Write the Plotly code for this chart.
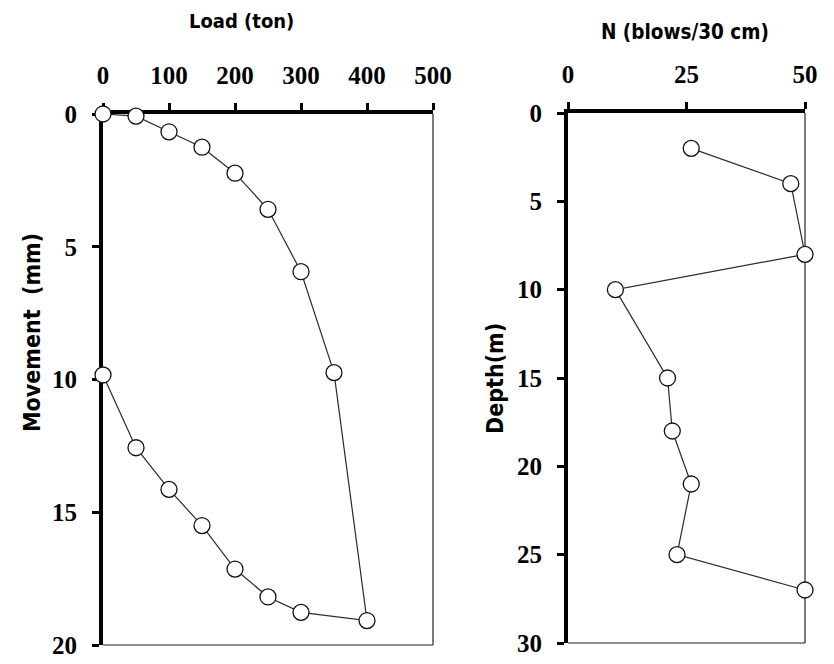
import plotly.graph_objects as go

# ---- data ----
load_ton = [0, 50, 100, 150, 200, 250, 300, 350, 400, 300, 250, 200, 150, 100, 50, 0]
movement_mm = [0, 0.08, 0.67, 1.25, 2.23, 3.59, 5.94, 9.74, 19.08, 18.77, 18.19, 17.14, 15.5, 14.14, 12.57, 9.83]

spt_n = [26, 47, 50, 10, 21, 22, 26, 23, 50]
depth_m = [2, 4, 8, 10, 15, 18, 21, 25, 27]

load_ticks = [0, 100, 200, 300, 400, 500]
move_ticks = [0, 5, 10, 15, 20]
n_ticks = [0, 25, 50]
depth_ticks = [0, 5, 10, 15, 20, 25, 30]

W, H = 834, 664

def xd(a, b):
    return [a / W, b / W]

def yd(top, bottom):
    return [(H - bottom) / H, (H - top) / H]

TICKFONT = dict(family="Liberation Serif", size=25, color="black", weight="bold")
TITLEFONT = "DejaVu Sans Condensed, DejaVu Sans"

marker = dict(symbol="circle", size=16, color="white", line=dict(color="#111", width=1.3))
line = dict(color="#2a2a2a", width=1.2)

fig = go.Figure()
fig.add_trace(go.Scatter(x=load_ton, y=movement_mm, mode="lines+markers", marker=marker,
                         line=line, xaxis="x", yaxis="y", cliponaxis=False, showlegend=False))
fig.add_trace(go.Scatter(x=spt_n, y=depth_m, mode="lines+markers", marker=marker,
                         line=line, xaxis="x2", yaxis="y2", cliponaxis=False, showlegend=False))

common_x = dict(side="top", showgrid=False, zeroline=False, showline=True, linecolor="black",
                linewidth=4, ticks="outside", ticklen=7, tickwidth=3, tickcolor="black",
                tickfont=TICKFONT, ticklabelstandoff=9, layer="below traces",
                automargin=False)
common_y = dict(showgrid=False, zeroline=False, showline=True, linecolor="black",
                linewidth=4, ticks="outside", ticklen=7, tickwidth=3, tickcolor="black",
                tickfont=TICKFONT, ticklabelstandoff=10, layer="below traces",
                automargin=False)

fig.update_layout(
    width=W, height=H, margin=dict(l=0, r=0, t=0, b=0, pad=0, autoexpand=False),
    paper_bgcolor="white", plot_bgcolor="white",
    xaxis=dict(common_x, domain=xd(103, 433), range=[0, 500], tickvals=load_ticks,
               anchor="y"),
    yaxis=dict(common_y, domain=yd(114, 645), range=[20, 0], tickvals=move_ticks,
               anchor="x"),
    xaxis2=dict(common_x, domain=xd(568, 805), range=[0, 50], tickvals=n_ticks,
                anchor="y2"),
    yaxis2=dict(common_y, domain=yd(113, 643), range=[30, 0], tickvals=depth_ticks,
                anchor="x2"),
)

# thin right and bottom frame lines
for xr, yr in (("x", "y"), ("x2", "y2")):
    fig.add_shape(type="line", xref=f"{xr} domain", yref=f"{yr} domain",
                  x0=1, x1=1, y0=0, y1=1, line=dict(color="#222", width=1.2), layer="below")
    fig.add_shape(type="line", xref=f"{xr} domain", yref=f"{yr} domain",
                  x0=0, x1=1, y0=0, y1=0, line=dict(color="#222", width=1.2), layer="below")

def ann(text, x, y, size, angle=0):
    fig.add_annotation(text=text, x=x / W, y=(H - y) / H, xref="paper", yref="paper",
                       xanchor="center", yanchor="middle", showarrow=False, textangle=angle,
                       font=dict(family=TITLEFONT, size=size, color="black", weight="bold"))

ann("Load (ton)", 242, 21, 20)
ann("N (blows/30 cm)", 685, 32, 20.5)
ann("Movement  (mm)", 32, 333, 23, -90)
ann("Depth(m)", 495, 379, 23, -90)

fig.write_html("out.html")
